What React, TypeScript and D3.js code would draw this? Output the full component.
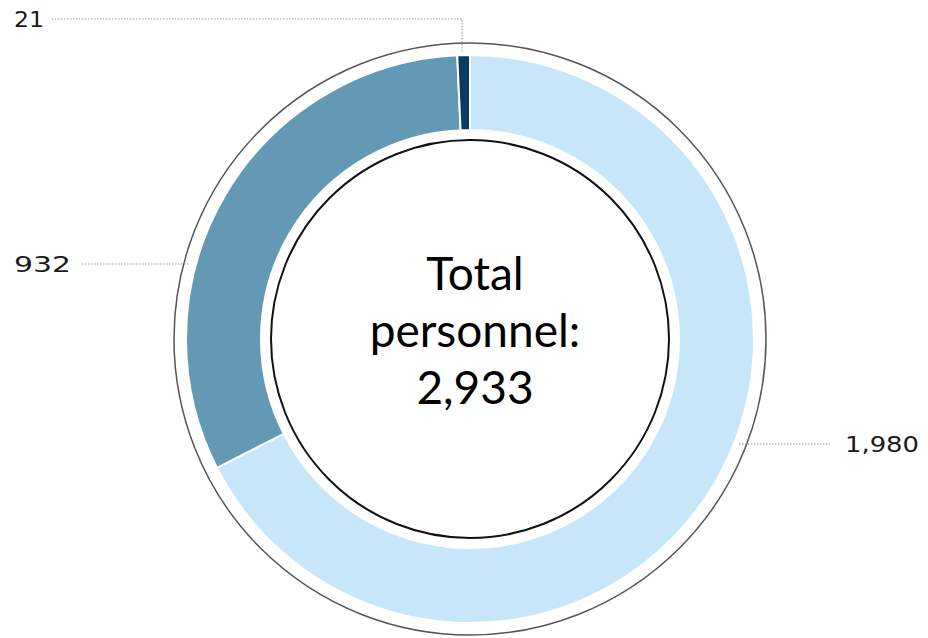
import React from "react";
import * as d3 from "d3";

const categories = ["A", "B", "C"];
const values = [1980, 932, 21];
const labels = ["1,980", "932", "21"];
const colors = ["#c8e6f9", "#6399b5", "#0c3d5e"];
const centerLines = ["Total", "personnel:", "2,933"];

const W = 928;
const H = 638;
const cx = 470;
const cy = 339;
const rOuterRing = 296;
const rOuter = 284;
const rInner = 209;
const rInnerRing = 199;

export default function App() {
  const pie = d3
    .pie<number>()
    .sort(null)
    .startAngle(0)
    .endAngle(2 * Math.PI)
    .value((d) => d);
  const arcs = pie(values);
  const arc = d3.arc<d3.PieArcDatum<number>>().innerRadius(rInner).outerRadius(rOuter);

  const labelFont = "'DejaVu Sans', sans-serif";
  return (
    <svg width={W} height={H} style={{ position: "absolute", left: 0, top: 0 }}>
      <rect width={W} height={H} fill="#fff" />
      <circle cx={cx} cy={cy} r={rOuterRing} fill="none" stroke="#555" strokeWidth={1.5} />
      <g transform={`translate(${cx},${cy})`}>
        {arcs.map((a, i) => (
          <path key={categories[i]} d={arc(a) || ""} fill={colors[i]} stroke="#fff" strokeWidth={2} />
        ))}
      </g>
      <circle cx={cx} cy={cy} r={rInnerRing} fill="none" stroke="#111" strokeWidth={2} />
      <g stroke="#999" strokeWidth={1} strokeDasharray="1.5,1.5" fill="none">
        <polyline points={`52,19 462,19 462,52`} />
        <line x1={82} y1={264} x2={190} y2={264} />
        <line x1={739} y1={444} x2={830} y2={444} />
      </g>
      <g fill="#1a1a1a" fontFamily={labelFont} fontSize={22}>
        <text x={14} y={27} textLength={30} lengthAdjust="spacingAndGlyphs">{labels[2]}</text>
        <text x={14} y={272} textLength={57} lengthAdjust="spacingAndGlyphs">{labels[1]}</text>
        <text x={845} y={452} textLength={74} lengthAdjust="spacingAndGlyphs">{labels[0]}</text>
      </g>
      <g fontFamily="Lato, 'Open Sans', sans-serif" fontSize={46} fill="#000" textAnchor="middle">
        {centerLines.map((t, i) => (
          <text key={t} x={cx + 5} y={290 + i * 57}>{t}</text>
        ))}
      </g>
    </svg>
  );
}
